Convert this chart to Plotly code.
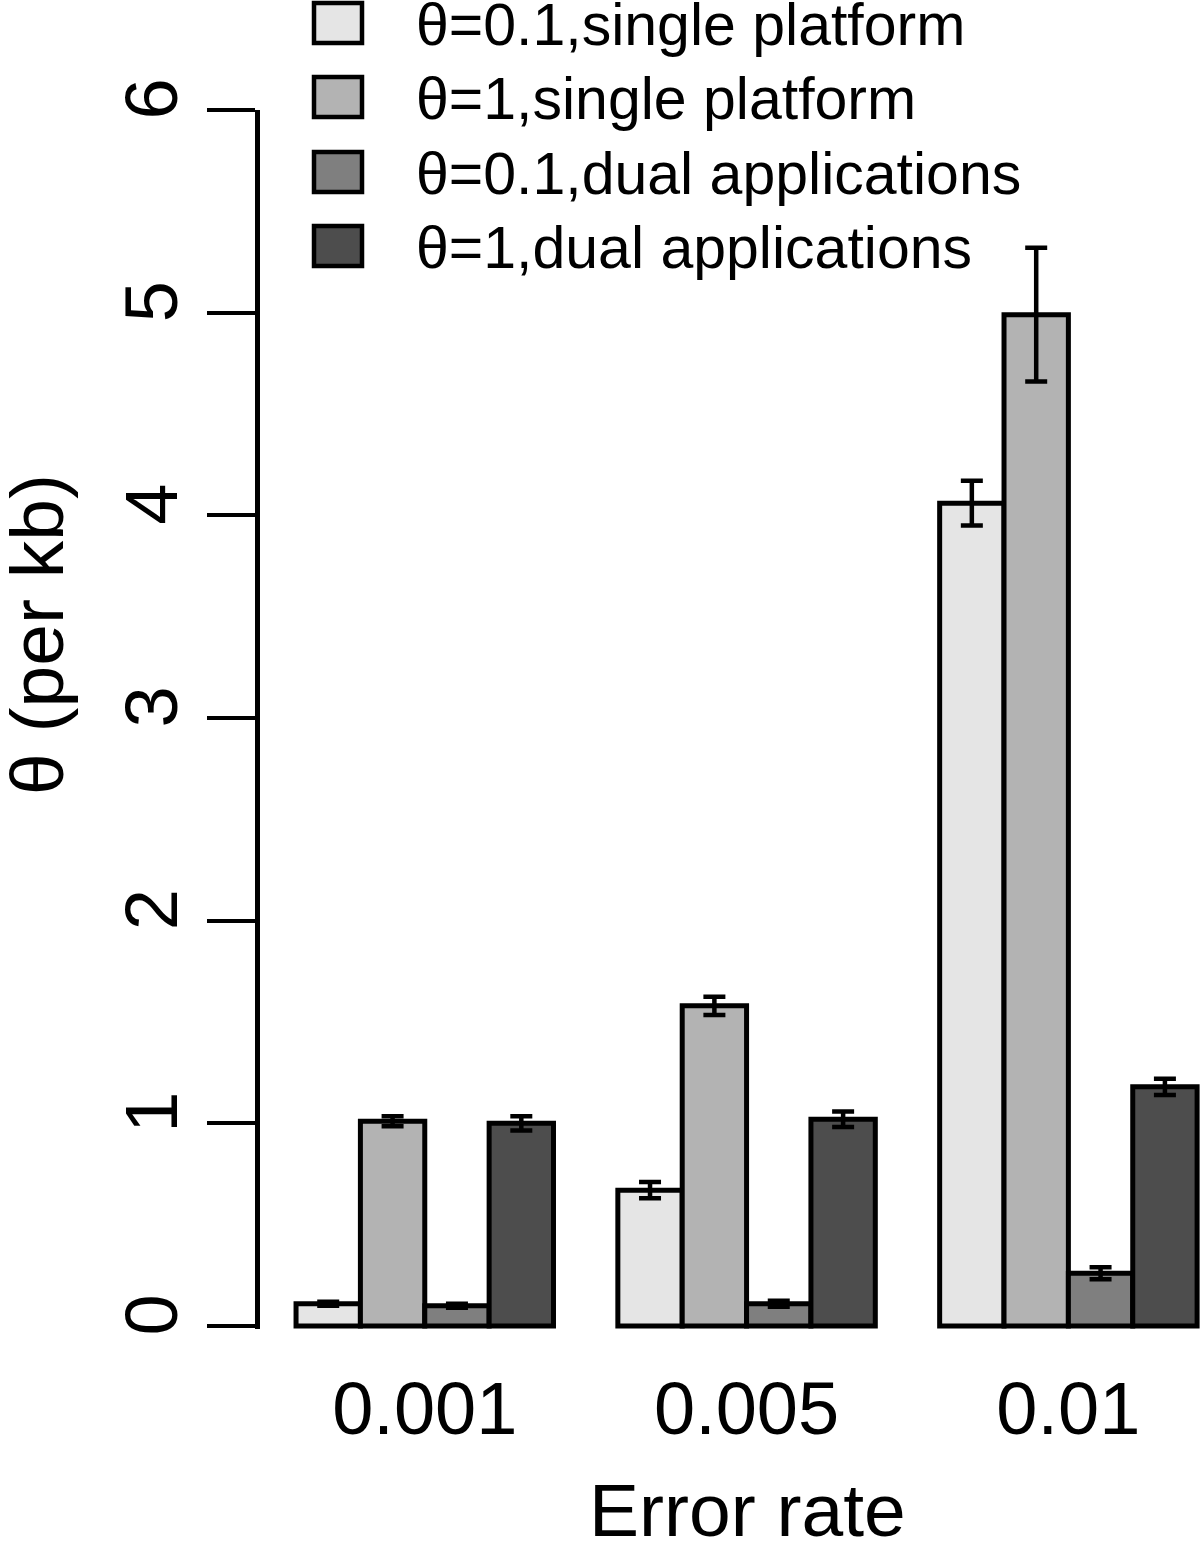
import plotly.graph_objects as go

# data
error_rates = ["0.001", "0.005", "0.01"]
series_names = ["θ=0.1,single platform", "θ=1,single platform",
                "θ=0.1,dual applications", "θ=1,dual applications"]
theta_est = [
    [0.11, 0.67, 4.06],   # theta=0.1 single
    [1.01, 1.58, 4.99],   # theta=1 single
    [0.10, 0.11, 0.26],   # theta=0.1 dual
    [1.00, 1.02, 1.18],   # theta=1 dual
]
theta_err = [
    [0.01, 0.04, 0.11],
    [0.025, 0.045, 0.33],
    [0.01, 0.015, 0.03],
    [0.035, 0.038, 0.04],
]
colors = ["#E5E5E5", "#B3B3B3", "#7F7F7F", "#4D4D4D"]

FONT = "Liberation Sans, Arial, Helvetica, sans-serif"
W, H = 1200, 1543
L, R, T, B = 260, 0, 110, 214
pw, ph = W - L - R, H - T - B

def px(x):  # pixel -> paper x
    return (x - L) / pw

def py(y):  # pixel -> paper y
    return (H - B - y) / ph

# R barplot(beside=TRUE) layout: bars width 1, one bar of space between groups
n_ser = len(series_names)
fig = go.Figure()
for s in range(n_ser):
    xs = [g * (n_ser + 1) + s + 1.5 for g in range(len(error_rates))]
    fig.add_trace(go.Bar(
        x=xs, y=theta_est[s], width=1, name=series_names[s],
        marker=dict(color=colors[s], line=dict(color="black", width=5)),
        error_y=dict(type="data", array=theta_err[s], color="black",
                     thickness=4.5, width=11),
        showlegend=False,
    ))

group_centers = [g * (n_ser + 1) + 1 + n_ser / 2 for g in range(len(error_rates))]

fig.update_layout(
    width=W, height=H,
    margin=dict(l=L, r=R, t=T, b=B),
    plot_bgcolor="white", paper_bgcolor="white",
    font=dict(family=FONT, color="black"),
    barmode="overlay",
    xaxis=dict(range=[0.44, 15.045], tickvals=group_centers, ticktext=error_rates,
               ticks="", showline=False, showgrid=False, zeroline=False,
               tickfont=dict(size=74), ticklabelstandoff=30),
    yaxis=dict(range=[-0.015, 6], tickvals=[0, 1, 2, 3, 4, 5, 6],
               ticks="outside", ticklen=48, tickwidth=4, tickcolor="black",
               showline=True, linewidth=5, linecolor="black",
               showgrid=False, zeroline=False, tickangle=-90,
               tickfont=dict(size=74), ticklabelstandoff=0),
)

# axis titles
fig.add_annotation(xref="paper", yref="paper", x=px(747), y=py(1510),
                   text="Error rate", showarrow=False, font=dict(size=75),
                   xanchor="center", yanchor="middle")
fig.add_annotation(xref="paper", yref="paper", x=px(37), y=py(635),
                   text="θ (per kb)", showarrow=False, font=dict(size=75),
                   textangle=-90, xanchor="center", yanchor="middle")

# legend drawn like R's legend(): boxes plus labels above the plot region
row_y = [23, 97, 172, 246]
for s in range(n_ser):
    cy = row_y[s]
    fig.add_shape(type="rect", xref="paper", yref="paper",
                  x0=px(314), x1=px(362), y0=py(cy + 20), y1=py(cy - 20),
                  fillcolor=colors[s], line=dict(color="black", width=4.5))
    fig.add_annotation(xref="paper", yref="paper", x=px(414), y=py(cy + 2),
                       text=series_names[s], showarrow=False,
                       font=dict(size=59), xanchor="left", yanchor="middle")

# drop the default page margin so the figure sits at the window corner
fig.write_html("out.html", config={"displayModeBar": False},
               post_script="document.body.style.margin='0';")
